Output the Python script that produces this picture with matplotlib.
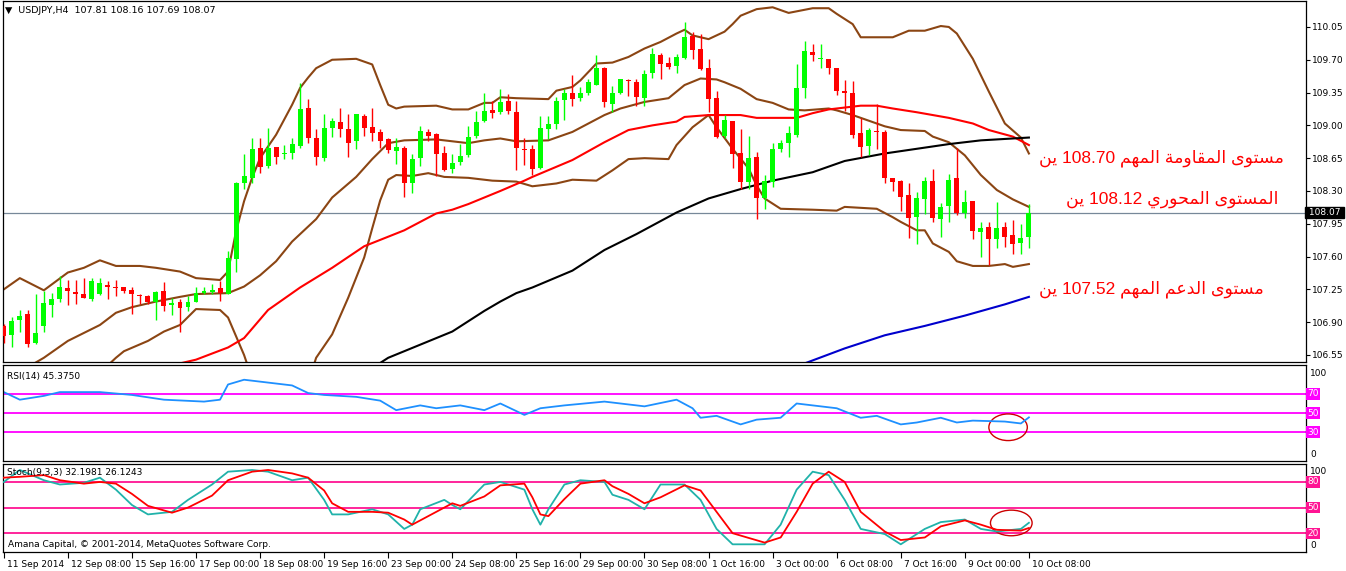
import numpy as np
import matplotlib
matplotlib.use("Agg")
import matplotlib.pyplot as plt
import matplotlib.transforms as mtrans
from matplotlib.patches import Ellipse

# --- candles, USDJPY H4 (bar 0 = 11 Sep 2014 00:00) ---
opens = [106.86, 106.76, 106.92, 106.99, 106.68, 106.86, 107.08, 107.15, 107.26, 107.22,
         107.20, 107.15, 107.20, 107.30, 107.28, 107.27, 107.24, 107.19, 107.18, 107.11,
         107.23, 107.08, 107.11, 107.06, 107.11, 107.21, 107.22, 107.26, 107.20, 107.57,
         108.38, 108.44, 108.76, 108.57, 108.77, 108.69, 108.70, 108.78, 109.18, 108.87,
         108.65, 108.97, 109.04, 108.96, 108.83, 109.10, 108.98, 108.93, 108.85, 108.73,
         108.76, 108.39, 108.65, 108.93, 108.91, 108.71, 108.53, 108.61, 108.68, 108.89,
         109.05, 109.16, 109.14, 109.26, 109.14, 108.75, 108.75, 108.54, 108.96, 109.01,
         109.27, 109.35, 109.29, 109.34, 109.43, 109.61, 109.23, 109.35, 109.48, 109.46,
         109.29, 109.56, 109.75, 109.67, 109.63, 109.72, 109.95, 109.82, 109.61, 109.29,
         108.89, 109.05, 108.71, 108.40, 108.66, 108.23, 108.40, 108.75, 108.81, 108.90,
         109.40, 109.78, 109.71, 109.71, 109.61, 109.37, 109.35, 108.92, 108.78, 108.94,
         108.93, 108.44, 108.41, 108.26, 108.02, 108.21, 108.41, 108.00, 108.14, 108.44,
         108.07, 108.19, 107.86, 107.92, 107.79, 107.92, 107.83, 107.74, 107.81]
highs = [106.88, 106.95, 107.03, 107.03, 107.20, 107.23, 107.21, 107.39, 107.35, 107.35,
         107.37, 107.37, 107.37, 107.34, 107.35, 107.28, 107.27, 107.20, 107.19, 107.23,
         107.33, 107.16, 107.15, 107.18, 107.27, 107.28, 107.31, 107.34, 107.66, 108.40,
         108.69, 108.87, 108.87, 108.97, 108.77, 108.79, 108.87, 109.45, 109.28, 108.96,
         109.12, 109.08, 109.19, 109.12, 109.12, 109.12, 109.19, 108.96, 108.87, 108.86,
         108.78, 108.69, 108.99, 108.96, 108.92, 108.78, 108.69, 108.80, 108.99, 109.15,
         109.35, 109.26, 109.39, 109.33, 109.26, 108.86, 108.79, 109.10, 109.10, 109.30,
         109.39, 109.54, 109.41, 109.49, 109.75, 109.62, 109.42, 109.50, 109.49, 109.49,
         109.59, 109.83, 109.77, 109.73, 109.76, 110.10, 110.00, 109.98, 109.71, 109.37,
         109.11, 109.05, 108.96, 108.89, 108.72, 108.47, 108.81, 108.84, 108.99, 109.65,
         109.90, 109.87, 109.87, 109.71, 109.61, 109.48, 109.47, 109.08, 108.97, 109.23,
         108.95, 108.44, 108.42, 108.39, 108.29, 108.45, 108.53, 108.17, 108.48, 108.76,
         108.31, 108.19, 107.97, 107.97, 108.18, 107.97, 107.99, 107.95, 108.16]
lows = [106.68, 106.63, 106.79, 106.64, 106.67, 106.79, 106.96, 107.11, 107.08, 107.09,
        107.16, 107.13, 107.19, 107.15, 107.18, 107.21, 106.99, 107.09, 107.09, 106.92,
        107.02, 106.98, 106.80, 107.02, 107.11, 107.20, 107.20, 107.13, 107.20, 107.43,
        108.32, 108.39, 108.49, 108.55, 108.59, 108.64, 108.64, 108.76, 108.81, 108.58,
        108.62, 108.88, 108.88, 108.66, 108.75, 108.89, 108.83, 108.76, 108.70, 108.59,
        108.24, 108.28, 108.57, 108.83, 108.46, 108.51, 108.49, 108.58, 108.66, 108.87,
        109.04, 109.08, 109.12, 109.12, 108.52, 108.58, 108.47, 108.53, 108.85, 108.96,
        109.06, 109.21, 109.26, 109.32, 109.43, 109.20, 109.14, 109.33, 109.31, 109.21,
        109.21, 109.51, 109.49, 109.60, 109.56, 109.71, 109.71, 109.59, 109.14, 108.86,
        108.87, 108.55, 108.32, 108.32, 108.00, 108.11, 108.34, 108.72, 108.66, 108.88,
        109.29, 109.69, 109.61, 109.55, 109.32, 109.15, 108.86, 108.66, 108.68, 108.75,
        108.39, 108.30, 108.09, 107.80, 107.73, 108.05, 107.97, 107.81, 107.97, 108.04,
        108.01, 107.79, 107.60, 107.51, 107.69, 107.70, 107.63, 107.63, 107.69]
closes = [106.75, 106.91, 106.97, 106.67, 106.78, 107.10, 107.15, 107.27, 107.23, 107.20,
          107.16, 107.34, 107.32, 107.28, 107.26, 107.23, 107.20, 107.18, 107.11, 107.22,
          107.07, 107.10, 107.05, 107.12, 107.21, 107.23, 107.24, 107.21, 107.59, 108.38,
          108.46, 108.75, 108.56, 108.76, 108.66, 108.70, 108.80, 109.17, 108.87, 108.66,
          108.97, 109.05, 108.96, 108.81, 109.12, 108.97, 108.92, 108.83, 108.74, 108.77,
          108.38, 108.64, 108.94, 108.89, 108.69, 108.52, 108.60, 108.67, 108.88, 109.04,
          109.15, 109.13, 109.25, 109.15, 108.76, 108.74, 108.53, 108.97, 109.01, 109.26,
          109.34, 109.28, 109.35, 109.46, 109.61, 109.25, 109.34, 109.49, 109.47, 109.30,
          109.55, 109.76, 109.65, 109.62, 109.73, 109.94, 109.80, 109.60, 109.28, 108.88,
          109.06, 108.69, 108.40, 108.65, 108.22, 108.41, 108.75, 108.81, 108.92, 109.40,
          109.79, 109.75, 109.72, 109.61, 109.37, 109.34, 108.90, 108.77, 108.95, 108.93,
          108.44, 108.40, 108.24, 108.01, 108.23, 108.41, 108.01, 108.13, 108.42, 108.06,
          108.18, 107.87, 107.91, 107.79, 107.91, 107.81, 107.73, 107.80, 108.07]

# --- indicator lines: (bar, value) ---
bb_up_x = [0, 2, 5, 8, 10, 12, 14, 17, 19, 22, 24, 27, 28, 29, 30, 31, 32, 34, 36, 37, 38, 39, 41, 44,
           46, 47, 48, 49, 50, 54, 56, 58, 60, 61, 62, 64, 68, 69, 71, 72, 74, 76, 78, 80, 82, 84,
           85, 86, 88, 90, 91, 92, 94, 96, 98, 101, 103, 104, 106, 107, 111, 113, 115, 117, 118,
           119, 121, 123, 125, 127, 128]
bb_up = [107.25, 107.37, 107.24, 107.43, 107.48, 107.56, 107.50, 107.50, 107.48, 107.44, 107.37,
         107.35, 107.44, 107.87, 108.19, 108.44, 108.65, 108.90, 109.22, 109.40, 109.51, 109.61,
         109.70, 109.71, 109.65, 109.43, 109.22, 109.18, 109.20, 109.21, 109.17, 109.17, 109.24,
         109.24, 109.30, 109.29, 109.28, 109.37, 109.41, 109.48, 109.66, 109.67, 109.73, 109.82,
         109.89, 109.98, 110.02, 109.96, 109.92, 110.00, 110.08, 110.17, 110.24, 110.26, 110.20,
         110.25, 110.25, 110.19, 110.08, 109.94, 109.94, 110.01, 110.01, 110.06, 110.05, 109.98,
         109.71, 109.36, 109.02, 108.87, 108.70]
bb_mid_x = [0, 3, 5, 8, 12, 14, 16, 19, 22, 24, 28, 30, 32, 34, 36, 39, 41, 44, 46, 48, 50, 54, 56,
            58, 60, 62, 64, 68, 71, 73, 75, 77, 80, 83, 85, 87, 89, 90, 92, 94, 96, 98, 100, 103,
            104, 106, 109, 110, 112, 115, 116, 118, 120, 122, 124, 126, 128]
bb_mid = [106.35, 106.42, 106.52, 106.70, 106.87, 107.00, 107.06, 107.12, 107.17, 107.20, 107.21,
          107.28, 107.40, 107.55, 107.76, 108.00, 108.23, 108.45, 108.64, 108.81, 108.84, 108.85,
          108.83, 108.81, 108.84, 108.86, 108.83, 108.84, 108.93, 109.02, 109.11, 109.18, 109.25,
          109.29, 109.43, 109.50, 109.49, 109.46, 109.39, 109.28, 109.24, 109.17, 109.16, 109.18,
          109.16, 109.11, 109.02, 108.99, 108.95, 108.94, 108.88, 108.82, 108.68, 108.47, 108.31,
          108.21, 108.13]
bb_low_x = [0, 6, 10, 14, 15, 18, 20, 22, 24, 27, 28, 29, 30, 32, 34, 36, 38, 39, 41, 43, 45, 46,
            47, 48, 49, 51, 53, 55, 58, 61, 64, 66, 69, 71, 74, 76, 78, 80, 83, 84, 86, 88, 89, 91,
            93, 94, 95, 97, 101, 104, 105, 107, 109, 111, 112, 114, 115, 116, 118, 119, 121, 123,
            125, 126, 128]
bb_low = [105.75, 105.95, 106.20, 106.52, 106.59, 106.70, 106.80, 106.87, 107.04, 107.03, 106.95,
          106.75, 106.55, 106.05, 105.75, 105.75, 106.25, 106.52, 106.77, 107.16, 107.59, 107.90,
          108.20, 108.42, 108.47, 108.46, 108.49, 108.45, 108.44, 108.41, 108.40, 108.35, 108.38,
          108.42, 108.41, 108.52, 108.64, 108.65, 108.64, 108.79, 108.98, 109.11, 108.98, 108.75,
          108.54, 108.36, 108.22, 108.11, 108.10, 108.09, 108.13, 108.12, 108.11, 108.02, 107.97,
          107.88, 107.88, 107.74, 107.65, 107.55, 107.50, 107.50, 107.52, 107.49, 107.52]
ma_red_x = [0, 10, 18, 24, 28, 30, 33, 37, 41, 45, 50, 54, 56, 58, 60, 62, 65, 66, 71, 75, 78, 81,
            84, 85, 88, 92, 94, 99, 101, 103, 105, 107, 109, 111, 114, 118, 121, 123, 126, 128]
ma_red = [106.05, 106.22, 106.38, 106.50, 106.63, 106.73, 107.03, 107.27, 107.48, 107.71, 107.88,
          108.06, 108.10, 108.16, 108.23, 108.30, 108.41, 108.45, 108.63, 108.82, 108.95, 109.00,
          109.04, 109.09, 109.11, 109.11, 109.08, 109.08, 109.13, 109.17, 109.19, 109.21, 109.21,
          109.18, 109.14, 109.08, 109.02, 108.95, 108.88, 108.79]
ma_black_x = [44, 48, 52, 56, 60, 62, 64, 66, 71, 75, 79, 84, 88, 92, 96, 101, 105, 110, 114, 118,
              122, 128]
ma_black = [106.30, 106.52, 106.66, 106.80, 107.02, 107.12, 107.21, 107.27, 107.45, 107.67, 107.84,
            108.07, 108.22, 108.32, 108.41, 108.50, 108.62, 108.70, 108.75, 108.80, 108.84, 108.87]
ma_blue_x = [96, 100, 105, 110, 115, 120, 125, 128]
ma_blue = [106.38, 106.46, 106.62, 106.76, 106.86, 106.97, 107.09, 107.17]

rsi_x = [0, 2, 5, 7, 12, 16, 20, 25, 27, 28, 30, 33, 36, 38, 40, 44, 47, 49, 52, 54, 57, 60, 62, 65,
         67, 70, 75, 80, 84, 86, 87, 89, 92, 94, 97, 99, 101, 104, 107, 109, 112, 114, 117, 119,
         121, 125, 127, 128]
rsi = [72, 64, 68, 72, 72, 69, 64, 62, 64, 80, 85, 82, 79, 71, 69, 67, 63, 53, 58, 55, 58, 53, 60,
       48, 55, 58, 62, 57, 64, 55, 45, 47, 38, 43, 45, 60, 58, 55, 45, 47, 38, 40, 45, 40, 42, 41,
       39, 45.375]

sto_x = [0, 2, 5, 7, 10, 12, 14, 16, 18, 21, 23, 26, 28, 31, 33, 36, 38, 40, 41, 43, 46, 48, 50,
         51, 52, 55, 56, 57, 60, 62, 65, 66, 67, 68, 70, 72, 75, 76, 78, 80, 82, 85, 87, 89, 91, 95,
         97, 99, 101, 103, 105, 107, 110, 112, 115, 117, 120, 122, 124, 127, 128]
sto_main = [80, 94, 82, 77, 79, 85, 71, 53, 42, 45, 59, 77, 92, 94, 92, 82, 85, 59, 42, 42, 48, 42,
            25, 30, 48, 59, 53, 48, 77, 80, 71, 48, 30, 48, 77, 82, 80, 65, 59, 48, 77, 77, 59, 25,
            7, 7, 30, 71, 92, 88, 59, 25, 19, 7, 25, 33, 36, 25, 22, 25, 32.1981]
sto_sig = [85, 86, 88, 82, 78, 80, 78, 66, 52, 44, 50, 64, 82, 92, 94, 90, 85, 70, 55, 45, 45, 44,
           36, 30, 35, 50, 55, 52, 63, 76, 78, 62, 42, 40, 60, 78, 82, 75, 66, 55, 62, 76, 70, 45,
           20, 9, 15, 45, 78, 92, 80, 45, 22, 12, 15, 28, 35, 30, 24, 23, 26.1243]

price_ticks = [110.05, 109.70, 109.35, 109.00, 108.65, 108.30, 107.95, 107.60, 107.25, 106.90, 106.55]
date_ticks = [0, 8, 16, 24, 32, 40, 48, 56, 64, 72, 80, 88, 96, 104, 112, 120, 128]
date_labels = ["11 Sep 2014", "12 Sep 08:00", "15 Sep 16:00", "17 Sep 00:00", "18 Sep 08:00",
               "19 Sep 16:00", "23 Sep 00:00", "24 Sep 08:00", "25 Sep 16:00", "29 Sep 00:00",
               "30 Sep 08:00", "1 Oct 16:00", "3 Oct 00:00", "6 Oct 08:00", "7 Oct 16:00",
               "9 Oct 00:00", "10 Oct 08:00"]
last_price = 108.07

notes = [("مستوى المقاومة المهم 108.70 ين", 1284, 158),
         ("المستوى المحوري 108.12 ين", 1278, 199),
         ("مستوى الدعم المهم 107.52 ين", 1264, 289)]

# Arabic contextual forms (isolated, final, initial, medial); matplotlib does no shaping
FORMS = {
    "ا": (0xFE8D, 0xFE8E), "ة": (0xFE93, 0xFE94), "ت": (0xFE95, 0xFE96, 0xFE97, 0xFE98),
    "ح": (0xFEA1, 0xFEA2, 0xFEA3, 0xFEA4), "د": (0xFEA9, 0xFEAA), "ر": (0xFEAD, 0xFEAE),
    "س": (0xFEB1, 0xFEB2, 0xFEB3, 0xFEB4), "ع": (0xFEC9, 0xFECA, 0xFECB, 0xFECC),
    "ق": (0xFED5, 0xFED6, 0xFED7, 0xFED8), "ل": (0xFEDD, 0xFEDE, 0xFEDF, 0xFEE0),
    "م": (0xFEE1, 0xFEE2, 0xFEE3, 0xFEE4), "ن": (0xFEE5, 0xFEE6, 0xFEE7, 0xFEE8),
    "ه": (0xFEE9, 0xFEEA, 0xFEEB, 0xFEEC), "و": (0xFEED, 0xFEEE), "ى": (0xFEEF, 0xFEF0),
    "ي": (0xFEF1, 0xFEF2, 0xFEF3, 0xFEF4),
}


def shape_word(w):
    out = []
    for k, ch in enumerate(w):
        f = FORMS.get(ch)
        if f is None:
            out.append(ch)
            continue
        prev_joins = k > 0 and w[k - 1] in FORMS and len(FORMS[w[k - 1]]) == 4
        next_joins = len(f) == 4 and k + 1 < len(w) and w[k + 1] in FORMS
        if prev_joins and next_joins:
            out.append(chr(f[3]))
        elif prev_joins:
            out.append(chr(f[1]))
        elif next_joins:
            out.append(chr(f[2]))
        else:
            out.append(chr(f[0]))
    return "".join(out)


def visual(s):
    # right-to-left words, left-to-right numbers
    toks = []
    for t in s.split(" "):
        if any(ch in FORMS for ch in t):
            toks.append(shape_word(t)[::-1])
        else:
            toks.append(t)
    return " ".join(toks[::-1])


W, H = 1346, 571
fig = plt.figure(figsize=(W / 100, H / 100), dpi=100)
fig.patch.set_facecolor("white")


def rect(x0, y0, x1, y1):
    return [x0 / W, 1 - y1 / H, (x1 - x0) / W, (y1 - y0) / H]


ax = fig.add_axes(rect(3, 1, 1306, 362))
ax_rsi = fig.add_axes(rect(3, 365, 1306, 461), sharex=ax)
ax_sto = fig.add_axes(rect(3, 464, 1306, 552), sharex=ax)

FS = 6.5
for a in (ax, ax_rsi, ax_sto):
    for s in a.spines.values():
        s.set_linewidth(0.9)
        s.set_color("black")
    a.yaxis.tick_right()
    a.tick_params(axis="y", direction="out", length=3, width=0.8, labelsize=FS, pad=1.5)
    a.tick_params(axis="x", direction="out", length=4, width=0.8, labelsize=FS, pad=2)

# --- main price panel ---
o = np.array(opens); h = np.array(highs); l = np.array(lows); c = np.array(closes)
x = np.arange(len(o))
cols = np.where(c >= o, "#00ff00", "#ff0000")
ax.vlines(x, l, h, colors=cols, linewidth=1.0, zorder=3)
body = np.maximum(np.abs(c - o), 0.008)
ax.bar(x, body, bottom=np.minimum(o, c), width=0.62, color=cols, linewidth=0, zorder=4)

brown = "#8b4513"
ax.plot(bb_up_x, bb_up, color=brown, lw=1.5, zorder=2)
ax.plot(bb_mid_x, bb_mid, color=brown, lw=1.5, zorder=2)
ax.plot(bb_low_x, bb_low, color=brown, lw=1.5, zorder=2)
ax.plot(ma_red_x, ma_red, color="#ff0000", lw=1.5, zorder=2)
ax.plot(ma_black_x, ma_black, color="black", lw=1.5, zorder=2)
ax.plot(ma_blue_x, ma_blue, color="#0000cd", lw=1.5, zorder=2)
ax.axhline(last_price, color="#778899", lw=0.9, zorder=1)

ax.set_ylim(106.475, 110.327)
ax.set_xlim(-0.1, 162.6)
ax.set_yticks(price_ticks)
ax.set_yticklabels([f"{v:.2f}" for v in price_ticks])
ax.text(1.0, last_price, f" {last_price:.2f} ", transform=ax.get_yaxis_transform(),
        fontsize=FS, color="white", va="center", ha="left", zorder=10,
        bbox=dict(boxstyle="square,pad=0.1", fc="black", ec="black"), clip_on=False)
ax.text(0.0015, 0.975, "▼  USDJPY,H4  107.81 108.16 107.69 108.07", transform=ax.transAxes,
        fontsize=FS + 0.3, va="center", ha="left")
plt.setp(ax.get_xticklabels(), visible=False)
ax.tick_params(axis="x", length=0)

for txt, px, py in notes:
    fig.text(px / W, 1 - py / H, visual(txt), color="#ff0000", fontsize=12.5,
             family=["Liberation Sans", "DejaVu Sans"], ha="right", va="center")

# --- RSI panel ---
ax_rsi.plot(rsi_x, rsi, color="#1e90ff", lw=1.3)
for lv in (70, 50, 30):
    ax_rsi.axhline(lv, color="#ff00ff", lw=1.3, zorder=1)
ax_rsi.set_ylim(-0.5, 100.5)
ax_rsi.set_yticks([70, 50, 30])
ax_rsi.set_yticklabels([])
for lv in (70, 50, 30):
    ax_rsi.text(1.001, lv, str(lv), transform=ax_rsi.get_yaxis_transform(), fontsize=FS,
                color="white", va="center", ha="left", clip_on=False,
                bbox=dict(boxstyle="square,pad=0.12", fc="#ff00ff", ec="none"))
ax_rsi.text(1.003, 92, "100", transform=ax_rsi.get_yaxis_transform(), fontsize=FS, va="center")
ax_rsi.text(1.003, 6, "0", transform=ax_rsi.get_yaxis_transform(), fontsize=FS, va="center")
ax_rsi.text(0.003, 0.88, "RSI(14) 45.3750", transform=ax_rsi.transAxes, fontsize=FS, va="center")
ax_rsi.add_patch(Ellipse((125.4, 35), 4.8, 28, fill=False, ec="#cc0000", lw=1.0))
plt.setp(ax_rsi.get_xticklabels(), visible=False)
ax_rsi.tick_params(axis="x", length=0)

# --- Stochastic panel ---
ax_sto.plot(sto_x, sto_main, color="#20b2aa", lw=1.3, zorder=3)
ax_sto.plot(sto_x, sto_sig, color="#ff0000", lw=1.3, zorder=3)
for lv in (80, 50, 20):
    ax_sto.axhline(lv, color="#ff1493", lw=1.3, zorder=1)
ax_sto.set_ylim(-2, 101)
ax_sto.set_yticks([80, 50, 20])
ax_sto.set_yticklabels([])
for lv in (80, 50, 20):
    ax_sto.text(1.001, lv, str(lv), transform=ax_sto.get_yaxis_transform(), fontsize=FS,
                color="white", va="center", ha="left", clip_on=False,
                bbox=dict(boxstyle="square,pad=0.12", fc="#ff1493", ec="none"))
ax_sto.text(1.003, 92, "100", transform=ax_sto.get_yaxis_transform(), fontsize=FS, va="center")
ax_sto.text(1.003, 6, "0", transform=ax_sto.get_yaxis_transform(), fontsize=FS, va="center")
ax_sto.text(0.003, 0.9, "Stoch(9,3,3) 32.1981 26.1243", transform=ax_sto.transAxes, fontsize=FS,
            va="center")
ax_sto.text(0.004, 0.08, "Amana Capital, © 2001-2014, MetaQuotes Software Corp.",
            transform=ax_sto.transAxes, fontsize=FS, va="center")
ax_sto.add_patch(Ellipse((125.8, 32), 5.2, 30, fill=False, ec="#cc0000", lw=1.0))
ax_sto.set_xticks(date_ticks)
ax_sto.set_xticklabels(date_labels, ha="left")
offset = mtrans.ScaledTranslation(3 / 100, 0, fig.dpi_scale_trans)
for lab in ax_sto.get_xticklabels():
    lab.set_transform(lab.get_transform() + offset)

fig.savefig("out.png", dpi=100, facecolor="white")
